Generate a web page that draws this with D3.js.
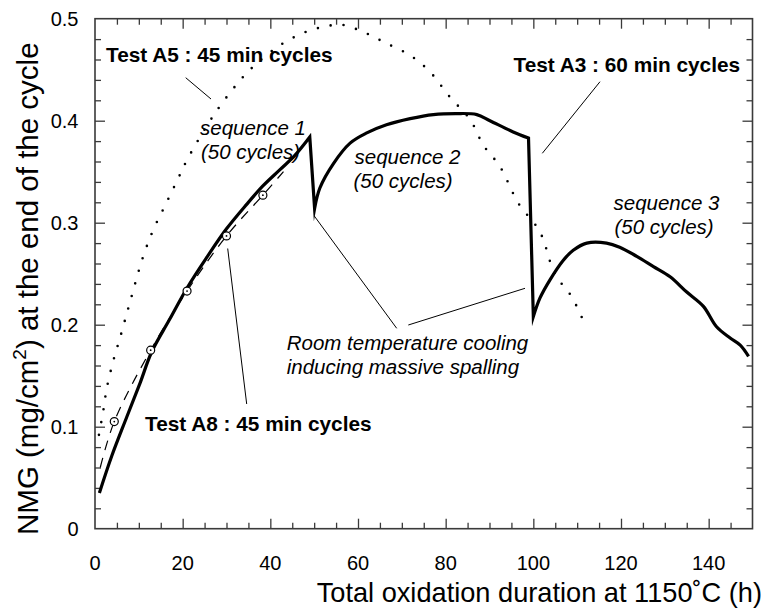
<!DOCTYPE html>
<html>
<head>
<meta charset="utf-8">
<script src="https://cdn.jsdelivr.net/npm/d3@7"></script>
<style>
  html, body { margin: 0; padding: 0; background: #fff; }
  svg { display: block; }
  text { font-family: "Liberation Sans", Arial, Helvetica, sans-serif; fill: #000; }
</style>
</head>
<body>
<svg id="chart" width="766" height="609"></svg>
<script>
// ---------------- data ----------------
// Test A3 : 60 min cycles (solid line), three sequences of 50 cycles
const a3X = [1, 3.8, 7.2, 10.3, 12.9, 17, 21, 25.5, 30, 34.6, 38.3, 42.2, 45.6, 49.0,
             50.1, 51.3, 54.4, 58.2, 62, 66.5, 71.9, 77.2, 82.5, 87.1, 90.1, 95.4, 98.9,
             100, 101.5, 103.8, 106.8, 109.1, 112.2, 116.7, 119.7, 123.6, 127.4, 131.2,
             135.0, 138.8, 141.8, 144.9, 147.2, 149.1];
const a3Y = [0.035, 0.071, 0.109, 0.143, 0.173, 0.205, 0.236, 0.266, 0.294, 0.318, 0.336, 0.352, 0.366, 0.384,
             0.314, 0.334, 0.358, 0.378, 0.388, 0.396, 0.402, 0.406, 0.407, 0.406, 0.400, 0.389, 0.383,
             0.208, 0.226, 0.244, 0.263, 0.273, 0.280, 0.280, 0.276, 0.267, 0.257, 0.247,
             0.232, 0.218, 0.198, 0.187, 0.180, 0.169];

// Test A5 : 45 min cycles (dotted line)
const a5X = [0.9, 1.9, 2.7, 4.2, 5.7, 8.0, 11.0, 13.3, 16.0, 18.6, 21.3, 27.8, 33.8, 36.9,
             42.2, 47.5, 52.1, 56.3, 61.2, 66.4, 71.9, 76.4, 81, 85.6, 88.6, 92.4, 96.6,
             101.5, 104.9, 108.8, 112.2];
const a5Y = [0.092, 0.116, 0.138, 0.165, 0.187, 0.2225, 0.267, 0.293, 0.317, 0.340, 0.364, 0.410, 0.443, 0.456,
             0.474, 0.486, 0.492, 0.494, 0.487, 0.476, 0.464, 0.448, 0.423, 0.401, 0.376, 0.355, 0.319,
             0.291, 0.250, 0.227, 0.196];

// Test A8 : 45 min cycles (dashed line with circles)
const a8X = [1.2, 4.4, 12.7, 21.0, 30.0, 38.3, 43.0];
const a8Y = [0.060, 0.105, 0.175, 0.233, 0.287, 0.327, 0.350];
const a8MarkX = [4.4, 12.7, 21.0, 30.0, 38.3];
const a8MarkY = [0.105, 0.175, 0.233, 0.287, 0.327];

// axes
const xTickLabels = [0, 20, 40, 60, 80, 100, 120, 140];
const yTickLabels = [0, 0.1, 0.2, 0.3, 0.4, 0.5];
const xDomain = [0, 150];
const yDomain = [0, 0.5];

// ---------------- drawing ----------------
const svg = d3.select("#chart");
const L = 95, R = 752.5, T = 18.7, B = 528.7;
const x = d3.scaleLinear().domain(xDomain).range([L, R]);
const y = d3.scaleLinear().domain(yDomain).range([B, T]);

const axisColor = "#3a3a3a";
const xMinor = d3.range(0, 151, 5);
const yMinor = d3.range(0, 0.5001, 0.02).map(v => +v.toFixed(2));

function styleAxis(g) {
  g.select(".domain").remove();
  g.selectAll("line").attr("stroke", axisColor).attr("stroke-width", 1.3);
  g.selectAll("text").remove();
}
const isMajorX = v => v % 20 === 0;
const isMajorY = v => Math.abs(v * 10 - Math.round(v * 10)) < 1e-6;

svg.append("g").attr("transform", `translate(0,${B})`)
  .call(d3.axisBottom(x).tickValues(xMinor.filter(v => v > 0 && v < 150)).tickSizeOuter(0))
  .call(styleAxis)
  .selectAll(".tick line").attr("y2", d => isMajorX(d) ? -10 : -6);
svg.append("g").attr("transform", `translate(0,${T})`)
  .call(d3.axisTop(x).tickValues(xMinor.filter(v => v > 0 && v < 150)).tickSizeOuter(0))
  .call(styleAxis)
  .selectAll(".tick line").attr("y2", d => isMajorX(d) ? 10 : 6);
svg.append("g").attr("transform", `translate(${L},0)`)
  .call(d3.axisLeft(y).tickValues(yMinor.filter(v => v > 0 && v < 0.5)).tickSizeOuter(0))
  .call(styleAxis)
  .selectAll(".tick line").attr("x2", d => isMajorY(d) ? 10 : 6);
svg.append("g").attr("transform", `translate(${R},0)`)
  .call(d3.axisRight(y).tickValues(yMinor.filter(v => v > 0 && v < 0.5)).tickSizeOuter(0))
  .call(styleAxis)
  .selectAll(".tick line").attr("x2", d => isMajorY(d) ? -10 : -6);

svg.append("rect").attr("x", L).attr("y", T).attr("width", R - L).attr("height", B - T)
  .attr("fill", "none").attr("stroke", axisColor).attr("stroke-width", 1.6);

// tick labels
svg.append("g").selectAll("text").data(xTickLabels).join("text")
  .attr("x", d => x(d)).attr("y", 570)
  .attr("text-anchor", "middle").attr("font-size", 20)
  .text(d => d);
svg.append("g").selectAll("text").data(yTickLabels).join("text")
  .attr("x", 78.5).attr("y", d => y(d)).attr("dy", "0.36em")
  .attr("text-anchor", "end").attr("font-size", 20)
  .text(d => d === 0 ? "0" : d3.format(".1f")(d));

// axis titles
svg.append("text").attr("x", 762).attr("y", 602).attr("text-anchor", "end")
  .attr("font-size", 27.2).text("Total oxidation duration at 1150˚C (h)");
const yt = svg.append("text").attr("transform", "translate(38,535) rotate(-90)")
  .attr("text-anchor", "start").attr("font-size", 29.5);
yt.append("tspan").text("NMG (mg/cm");
yt.append("tspan").attr("font-size", 19).attr("dy", -12).text("2");
yt.append("tspan").attr("dy", 12).text(") at the end of the cycle");

// series
const pt = (X, Y) => X.map((v, i) => [v, Y[i]]);
const a3 = pt(a3X, a3Y), a5 = pt(a5X, a5Y), a8 = pt(a8X, a8Y);
const smooth = d3.line().x(d => x(d[0])).y(d => y(d[1])).curve(d3.curveCatmullRom.alpha(0.5));

svg.append("path").datum(a5).attr("d", smooth)
  .attr("fill", "none").attr("stroke", "#000").attr("stroke-width", 2.6)
  .attr("stroke-linecap", "round").attr("stroke-dasharray", "0,13");

svg.append("path").datum(a8).attr("d", smooth)
  .attr("fill", "none").attr("stroke", "#000").attr("stroke-width", 1.2)
  .attr("stroke-dasharray", "10,8");

// A3: smooth within each sequence, straight drops at room-temperature cooling
const runs = [[a3[0]]];
for (let i = 1; i < a3.length; i++) {
  if (a3[i - 1][1] - a3[i][1] > 0.05) runs.push([a3[i]]);
  else runs[runs.length - 1].push(a3[i]);
}
let dA3 = "";
runs.forEach((r, k) => {
  let s = smooth(r);
  if (k > 0) s = "L" + s.slice(1);
  dA3 += s;
});
svg.append("path").attr("d", dA3)
  .attr("fill", "none").attr("stroke", "#000").attr("stroke-width", 3.2)
  .attr("stroke-linejoin", "miter").attr("stroke-miterlimit", 20);

const marks = pt(a8MarkX, a8MarkY);
const mg = svg.append("g");
mg.selectAll("circle.o").data(marks).join("circle").attr("class", "o")
  .attr("cx", d => x(d[0])).attr("cy", d => y(d[1])).attr("r", 4)
  .attr("fill", "#fff").attr("stroke", "#000").attr("stroke-width", 1.2);
mg.selectAll("circle.c").data(marks).join("circle").attr("class", "c")
  .attr("cx", d => x(d[0])).attr("cy", d => y(d[1])).attr("r", 0.9).attr("fill", "#000");

// annotation leader lines
const leaders = [
  [185.7, 77.7, 211, 99],
  [600, 81.7, 542.3, 153.3],
  [227.7, 248.5, 246.7, 404],
  [314.3, 216, 396.7, 328.3],
  [408.3, 325, 525, 288.3]
];
svg.append("g").selectAll("line").data(leaders).join("line")
  .attr("x1", d => d[0]).attr("y1", d => d[1]).attr("x2", d => d[2]).attr("y2", d => d[3])
  .attr("stroke", "#000").attr("stroke-width", 1);

// annotations
const bold = [
  ["Test A5 : 45 min cycles", 106, 62],
  ["Test A3 : 60 min cycles", 513.5, 71.5],
  ["Test A8 : 45 min cycles", 145, 431]
];
svg.append("g").selectAll("text").data(bold).join("text")
  .attr("x", d => d[1]).attr("y", d => d[2]).attr("font-size", 20.8).attr("font-weight", "bold")
  .text(d => d[0]);

const ital = [
  ["sequence 1", 200, 135], ["(50 cycles)", 201, 158.5],
  ["sequence 2", 354.5, 164], ["(50 cycles)", 353.5, 187.5],
  ["sequence 3", 613.5, 210], ["(50 cycles)", 614.5, 234],
  ["Room temperature cooling", 286.7, 350], ["inducing massive spalling", 286.7, 374]
];
svg.append("g").selectAll("text").data(ital).join("text")
  .attr("x", d => d[1]).attr("y", d => d[2]).attr("font-size", 20.5).attr("font-style", "italic")
  .text(d => d[0]);
</script>
</body>
</html>
